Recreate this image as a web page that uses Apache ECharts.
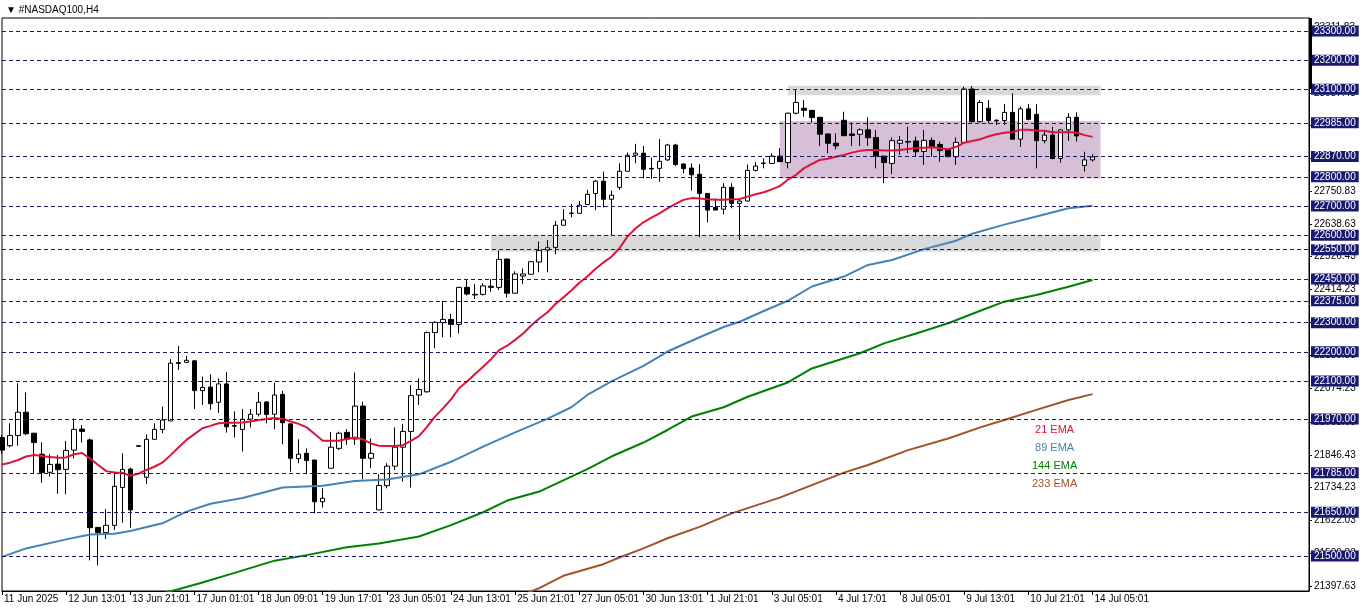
<!DOCTYPE html>
<html>
<head>
<meta charset="utf-8">
<script src="https://cdn.jsdelivr.net/npm/echarts@6/dist/echarts.min.js"></script>
<style>
html,body{margin:0;padding:0;background:#fff;}
#chart{width:1362px;height:611px;}
</style>
</head>
<body>
<div id="chart"></div>
<script>
// ---- DATA ----
const xLabels = ['11 Jun 2025','12 Jun 13:01','13 Jun 21:01','17 Jun 01:01','18 Jun 09:01','19 Jun 17:01','23 Jun 05:01','24 Jun 13:01','25 Jun 21:01','27 Jun 05:01','30 Jun 13:01','1 Jul 21:01','3 Jul 05:01','4 Jul 17:01','8 Jul 05:01','9 Jul 13:01','10 Jul 21:01','14 Jul 05:01'];
const totalSlots = 164; // bars + empty chart shift on the right

const opens = [21906,21878,21913,21993,21921,21849,21787,21815,21797,21863,
21935,21898,21598,21580,21605,21735,21798,21878,21770,21900,
21934,21963,22163,22164,22169,22067,22079,22027,22090,21947,
21934,21969,21986,22028,21986,22054,21953,21834,21852,21829,
21686,21801,21869,21924,21901,22014,21835,21658,21741,21808,
21873,21927,22052,22063,22266,22300,22311,22294,22421,22397,
22397,22425,22421,22518,22401,22460,22466,22508,22549,22558,
22634,22676,22675,22705,22743,22785,22723,22764,22819,22874,
22881,22829,22829,22858,22909,22844,22830,22809,22743,22695,
22689,22764,22709,22717,22822,22847,22846,22871,22849,23018,
23035,23028,23004,22947,22915,22994,22947,22946,22961,22935,
22871,22846,22915,22921,22923,22887,22925,22911,22894,22869,
22918,23101,22989,23035,22994,22993,23021,22929,23033,23014,
22924,22943,22863,22961,23004,22839,22858];
const closes = [21863,21913,21993,21919,21889,21786,21814,21796,21862,21934,
21927,21597,21580,21605,21739,21797,21658,21876,21900,21934,
21966,22161,22160,22171,22067,22078,22022,22090,21943,21945,
21969,21986,22027,21985,22052,21957,21835,21849,21827,21686,
21698,21873,21921,21901,22014,21835,21852,21742,21808,21873,
21927,22050,22071,22266,22301,22311,22294,22421,22398,22395,
22426,22421,22517,22401,22467,22467,22509,22547,22557,22634,
22652,22674,22703,22740,22785,22723,22737,22819,22874,22881,
22826,22827,22853,22909,22842,22828,22807,22743,22686,22686,
22764,22709,22717,22822,22837,22846,22871,22852,23018,23055,
23028,23003,22946,22915,22906,22941,22942,22961,22934,22871,
22849,22924,22925,22919,22886,22925,22903,22890,22869,22918,
23101,22989,23055,22993,22992,23021,22929,23033,22997,22924,
22943,22863,22961,23004,22940,22858,22868];
const lows = [21850,21873,21878,21915,21783,21751,21772,21713,21712,21835,
21889,21485,21468,21558,21589,21614,21597,21876,21747,21900,
21921,21963,22138,22161,22004,22018,22001,21991,21923,21906,
21858,21941,21978,21955,21935,21883,21789,21818,21780,21646,
21666,21801,21863,21881,21881,21763,21801,21658,21732,21795,
21755,21735,22018,22060,22212,22250,22250,22263,22393,22381,
22393,22406,22412,22386,22401,22433,22466,22473,22473,22534,
22634,22661,22675,22705,22686,22695,22597,22755,22819,22846,
22795,22793,22783,22854,22837,22812,22753,22593,22644,22686,
22671,22692,22583,22715,22818,22829,22846,22852,22829,23014,
23006,22986,22906,22881,22894,22940,22906,22906,22906,22829,
22778,22810,22875,22881,22871,22841,22869,22852,22867,22841,
22915,22986,22986,22983,22978,22978,22929,22903,22993,22829,
22915,22860,22849,22923,22921,22818,22852];
const highs = [21915,21955,22092,22061,21921,21890,21849,21846,21894,21971,
21949,21903,21598,21661,21789,21852,21803,21878,21917,21955,
22012,22175,22220,22186,22172,22115,22123,22109,22130,21996,
22004,22004,22062,22031,22094,22066,21953,21900,21869,21829,
21732,21925,21926,21935,22129,22029,21903,21780,21818,21941,
21953,22086,22109,22270,22305,22375,22330,22423,22449,22433,
22435,22449,22547,22520,22476,22486,22509,22578,22583,22649,
22689,22707,22717,22755,22789,22818,22753,22846,22883,22913,
22906,22866,22929,22913,22913,22846,22846,22843,22743,22726,
22778,22778,22726,22842,22851,22863,22881,22898,23020,23098,
23063,23028,23004,22949,22949,23023,22986,22966,23004,22961,
22871,22935,22940,22972,22938,22961,22935,22921,22898,22935,
23109,23111,23063,23063,22997,23050,23086,23041,23050,23049,
22961,22972,22963,23018,23021,22886,22878];

const ema21 = [21814,21820,21829,21841,21846,21843,21839,21837,21838,21849,
21853,21834,21812,21791,21786,21785,21775,21782,21795,21806,
21820,21845,21872,21898,21918,21938,21946,21955,21957,21957,
21958,21961,21966,21970,21973,21970,21961,21953,21941,21918,
21895,21895,21895,21901,21906,21900,21886,21878,21877,21877,
21880,21895,21911,21943,21978,22006,22037,22075,22098,22124,
22149,22175,22206,22221,22241,22263,22290,22314,22335,22363,
22386,22410,22437,22458,22484,22506,22526,22555,22595,22623,
22644,22660,22675,22692,22707,22721,22727,22726,22723,22721,
22721,22723,22724,22732,22740,22747,22757,22768,22790,22806,
22829,22844,22858,22862,22869,22875,22883,22889,22892,22892,
22890,22890,22892,22895,22898,22900,22901,22898,22894,22903,
22917,22923,22929,22938,22946,22951,22954,22961,22961,22959,
22958,22953,22953,22954,22951,22943,22937];
// [bar index, value]
const ema89 = [[0,21497],[3,21526],[8,21557],[11,21574],[14,21576],[16,21586],[20,21612],[23,21652],[26,21679],[30,21699],[35,21735],[40,21741],[44,21757],[48,21762],[52,21780],[56,21823],[60,21875],[64,21924],[68,21970],[71,22010],[73,22052],[76,22099],[80,22152],[83,22201],[87,22250],[90,22285],[92,22303],[95,22340],[98,22375],[101,22424],[105,22458],[108,22498],[111,22515],[115,22552],[119,22581],[121,22605],[125,22636],[129,22664],[133,22692],[136,22701]];
const ema144 = [[20,21372],[22,21386],[25,21409],[29,21442],[34,21484],[38,21503],[43,21530],[47,21543],[52,21567],[56,21606],[60,21650],[63,21690],[67,21721],[71,21772],[73,21798],[76,21841],[80,21889],[83,21932],[86,21978],[90,22010],[93,22046],[98,22095],[101,22143],[107,22195],[110,22229],[114,22263],[118,22298],[122,22341],[125,22372],[129,22395],[133,22423],[136,22446]];
const ema233 = [[65,21368],[67,21390],[70,21432],[75,21472],[77,21495],[80,21526],[83,21561],[87,21600],[91,21646],[97,21700],[101,21743],[105,21786],[108,21812],[113,21863],[118,21903],[122,21941],[125,21966],[129,22001],[133,22035],[136,22055]];

const hLevels = [23300,23200,23100,22985,22870,22800,22700,22600,22550,22450,22375,22300,22200,22100,21970,21785,21650,21500];
const axisPrices = [21397.63,21509.83,21622.03,21734.23,21846.43,21958.63,22074.23,22189.83,22302.03,22414.23,22526.43,22638.63,22750.83,22863.03,22975.23,23087.43,23199.63,23311.83];
// zones: [fromBar, toBar, lowPrice, highPrice]
const rangeZone = [97, 137, 22794, 22991];
const topZone = [98, 137, 23080, 23112];
const supportZone = [61, 137, 22543, 22601];
const emaNames = ['21 EMA','89 EMA','144 EMA','233 EMA'];

// ---- CHART ----
const FONT = "'Liberation Sans', Arial, sans-serif";
const categories = Array.from({length: totalSlots}, (_, i) => (i % 8 === 0 && i / 8 < xLabels.length) ? xLabels[i / 8] : 'b' + i);
const showTick = (idx) => idx % 8 === 0 && idx / 8 < xLabels.length;
const candleData = opens.map((o, i) => [o, closes[i], lows[i], highs[i]]);
const ema21Data = ema21.map((v, i) => [i, v]);

function zone(z, color) {
  return [{xAxis: z[0], yAxis: z[3], itemStyle: {color: color}}, {xAxis: z[1], yAxis: z[2]}];
}

const emaColors = ['#DC143C', '#4682B4', '#008000', '#A0522D'];

const chart = echarts.init(document.getElementById('chart'), null, {renderer: 'canvas'});
chart.setOption({
  animation: false,
  backgroundColor: '#ffffff',
  grid: {left: 2, right: 53, top: 18, bottom: 20, show: true, borderColor: '#000', borderWidth: 1, backgroundColor: 'transparent'},
  xAxis: {
    type: 'category', data: categories, boundaryGap: false,
    axisLine: {show: true, lineStyle: {color: '#000', width: 1}},
    axisTick: {show: true, interval: showTick, length: 4, lineStyle: {color: '#000'}},
    axisLabel: {interval: showTick, align: 'left', margin: 3, padding: [0, 0, 0, 2], fontSize: 10, color: '#000', fontFamily: FONT},
    splitLine: {show: false}
  },
  yAxis: {
    type: 'value', position: 'right', min: 21380, max: 23344.5,
    axisLine: {show: true, lineStyle: {color: '#000', width: 1}},
    axisTick: {show: true, length: 3, customValues: axisPrices, lineStyle: {color: '#000'}},
    axisLabel: {customValues: axisPrices, formatter: v => Number(v).toFixed(2), fontSize: 10, color: '#000', fontFamily: FONT, margin: 5},
    splitLine: {show: false}
  },
  graphic: [
    {type: 'text', left: 6, top: 5, z: 10, style: {text: '\u25BC #NASDAQ100,H4', font: '10px ' + FONT, fill: '#000'}},
    {type: 'rect', left: 1309, top: 18, z: 10, shape: {width: 3, height: 71}, style: {fill: '#000'}},
    {type: 'group', left: 1032, top: 424, z: 10, children: emaNames.map((n, k) => ({
      type: 'text', x: 20, y: k * 18.3, style: {text: n, font: '11px ' + FONT, fill: emaColors[k], align: 'center'}
    }))}
  ],
  series: [
    {
      type: 'line', data: [], z: 1, silent: true,
      markArea: {silent: true, data: [zone(rangeZone, '#D8BFD8'), zone(topZone, '#D9D9D9'), zone(supportZone, '#D9D9D9')]}
    },
    {
      type: 'line', data: [], z: 2, silent: true, clip: false,
      markLine: {
        silent: true, symbol: ['none', 'none'], animation: false,
        lineStyle: {color: '#191970', type: [4, 3], width: 1},
        label: {show: true, position: 'end', distance: 2, formatter: p => Number(p.value).toFixed(2),
          backgroundColor: '#191970', color: '#fff', fontSize: 10, lineHeight: 11, padding: [0, 3, 0, 3], fontFamily: FONT},
        emphasis: {disabled: true},
        data: hLevels.map(v => ({yAxis: v}))
      }
    },
    {
      type: 'candlestick', data: candleData, z: 3, barWidth: 5,
      itemStyle: {color: '#ffffff', color0: '#000000', borderColor: '#000000', borderColor0: '#000000', borderWidth: 1}
    },
    {type: 'line', data: ema21Data, z: 4, showSymbol: false, symbol: 'none', lineStyle: {color: emaColors[0], width: 2}},
    {type: 'line', data: ema89, z: 4, showSymbol: false, symbol: 'none', lineStyle: {color: emaColors[1], width: 2}},
    {type: 'line', data: ema144, z: 4, showSymbol: false, symbol: 'none', lineStyle: {color: emaColors[2], width: 2}},
    {type: 'line', data: ema233, z: 4, showSymbol: false, symbol: 'none', lineStyle: {color: emaColors[3], width: 2}}
  ]
});
</script>
</body>
</html>
